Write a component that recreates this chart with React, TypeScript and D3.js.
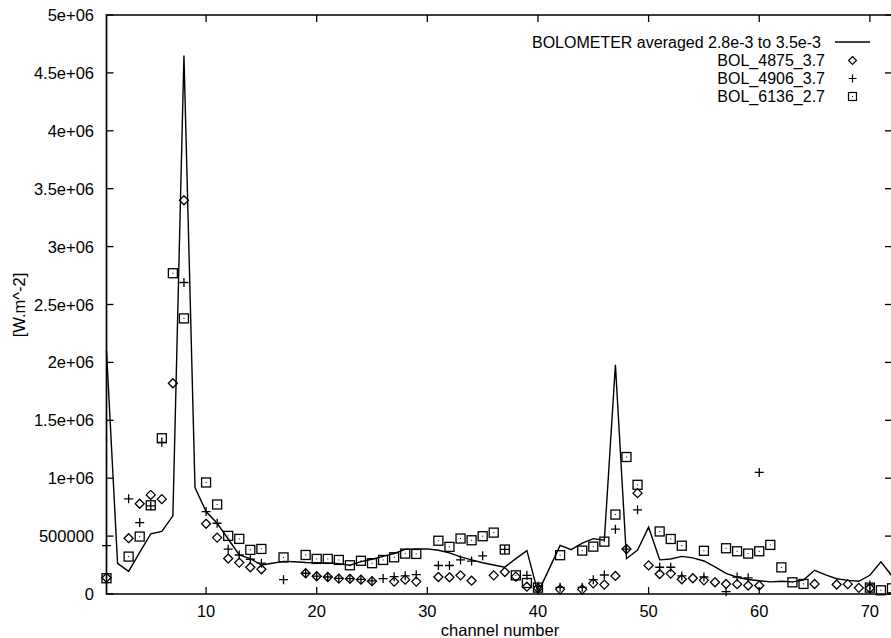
import React from "react";
import * as d3 from "d3";

const channels: number[] = d3.range(1, 73);

// BOLOMETER averaged 2.8e-3 to 3.5e-3 (solid line), channels 1..72
const bolometerAvg: number[] = [
  2100000, 265000, 195000, 360000, 520000, 540000, 675000, 4650000, 920000, 712000,
  611000, 475000, 337000, 305000, 250000, 265000, 282000, 278000, 272000, 270000,
  268000, 262000, 248000, 280000, 300000, 325000, 350000, 385000, 388000, 390000,
  378000, 355000, 320000, 295000, 270000, 250000, 232000, 305000, 375000, 12000,
  215000, 420000, 383000, 440000, 478000, 465000, 1980000, 305000, 380000, 577000,
  295000, 302000, 325000, 312000, 285000, 235000, 178000, 145000, 125000, 115000,
  105000, 110000, 105000, 120000, 205000, 165000, 132000, 118000, 110000, 162000,
  278000, 155000,
];

type V = number | null;

// BOL_4875_3.7 (diamonds)
const bol4875: V[] = [
  140000, null, 482000, 779000, 856000, 819000, 1820000, 3400000, null, 606000,
  487000, 306000, 271000, 231000, 214000, null, null, null, 179000, 153000,
  147000, 133000, 131000, 124000, 111000, null, 107000, 124000, 107000, null,
  147000, 144000, 161000, 115000, null, 161000, 190000, 150000, 63000, 49000,
  null, 40000, null, 40000, 92000, 81000, 156000, 388000, 871000, 247000,
  173000, 176000, 127000, 136000, 118000, 101000, 87000, 85000, 73000, 73000,
  null, null, null, null, 86000, null, 82000, 85000, 53000, 50000,
  null, null,
];

// BOL_4906_3.7 (plus)
const bol4906: V[] = [
  418000, null, 822000, 617000, 761000, 1310000, null, 2690000, null, 712000,
  611000, 387000, 337000, 300000, 266000, null, 124000, null, 179000, 155000,
  147000, 135000, 133000, 126000, 113000, 133000, 150000, 157000, 167000, null,
  246000, 246000, 294000, 284000, 330000, null, 385000, null, 161000, 66000,
  null, 58000, null, 58000, 124000, 164000, 560000, 388000, 727000, null,
  231000, 231000, 156000, null, 147000, null, 20000, 147000, 140000, 1050000,
  null, null, null, null, null, null, null, null, null, 78000,
  null, null,
];

// BOL_6136_2.7 (squares)
const bol6136: V[] = [
  136000, null, 323000, 496000, 766000, 1345000, 2770000, 2380000, null, 963000,
  773000, 502000, 476000, 381000, 389000, null, 316000, null, 337000, 303000,
  303000, 294000, 248000, 287000, 266000, 294000, 317000, 349000, 346000, null,
  460000, 407000, 479000, 464000, 499000, 530000, 384000, 161000, 95000, 55000,
  null, 335000, null, 375000, 409000, 452000, 686000, 1183000, 943000, null,
  540000, 475000, 417000, null, 373000, null, 395000, 369000, 349000, 369000,
  424000, 230000, 101000, 87000, null, null, null, null, null, 55000,
  32000, 49000,
];

const xTicks: number[] = [10, 20, 30, 40, 50, 60, 70];
const yTicks: number[] = [0, 500000, 1000000, 1500000, 2000000, 2500000, 3000000, 3500000, 4000000, 4500000, 5000000];
const yTickLabels: string[] = ["0", "500000", "1e+06", "1.5e+06", "2e+06", "2.5e+06", "3e+06", "3.5e+06", "4e+06", "4.5e+06", "5e+06"];

const legendLabels: string[] = [
  "BOLOMETER averaged 2.8e-3 to 3.5e-3",
  "BOL_4875_3.7",
  "BOL_4906_3.7",
  "BOL_6136_2.7",
];

const W = 891;
const H = 638;
const left = 106.5;
const right = 892;
const top = 15;
const bottom = 594;
const FONT = "'Liberation Sans', Arial, Helvetica, sans-serif";

export default function App() {
  const x = d3.scaleLinear().domain([1, 72]).range([left, right]);
  const y = d3.scaleLinear().domain([0, 5000000]).range([bottom, top]);

  const linePath = d3
    .line<number>()
    .x((_, i) => x(channels[i]))
    .y((d) => y(d))(bolometerAvg) as string;

  const diamond = (cx: number, cy: number, r = 4.5) =>
    `M${cx},${cy - r}L${cx + r},${cy}L${cx},${cy + r}L${cx - r},${cy}Z`;
  const plus = (cx: number, cy: number, r = 4.5) =>
    `M${cx - r},${cy}H${cx + r}M${cx},${cy - r}V${cy + r}`;

  const tickLen = 7;
  const fs = 16.5;
  const lfs = 16;
  const legendY = [42, 60.5, 78.5, 96.5];

  return (
    <svg
      width={W}
      height={H}
      style={{ position: "absolute", left: 0, top: 0, background: "#fff" }}
      fontFamily={FONT}
    >
      <rect x={0} y={0} width={W} height={H} fill="#fff" />
      {/* border */}
      <path
        d={`M${left},${top}H${right}V${bottom}H${left}Z`}
        fill="none"
        stroke="#000"
        strokeWidth={1.7}
      />
      {/* y ticks */}
      {yTicks.map((t, i) => (
        <g key={"yt" + i}>
          <line x1={left} x2={left + tickLen} y1={y(t)} y2={y(t)} stroke="#000" strokeWidth={1.3} />
          <line x1={right} x2={right - tickLen} y1={y(t)} y2={y(t)} stroke="#000" strokeWidth={1.3} />
          <text
            x={94}
            y={y(t)}
            textAnchor="end"
            dominantBaseline="central"
            fontSize={fs}
            fill="#000"
          >
            {yTickLabels[i]}
          </text>
        </g>
      ))}
      {/* x ticks */}
      {xTicks.map((t) => (
        <g key={"xt" + t}>
          <line x1={x(t)} x2={x(t)} y1={bottom} y2={bottom - tickLen} stroke="#000" strokeWidth={1.3} />
          <line x1={x(t)} x2={x(t)} y1={top} y2={top + tickLen} stroke="#000" strokeWidth={1.3} />
          <text x={x(t)} y={610.5} textAnchor="middle" dominantBaseline="central" fontSize={fs} fill="#000">
            {t}
          </text>
        </g>
      ))}
      {/* axis titles */}
      <text x={500} y={630} textAnchor="middle" dominantBaseline="central" fontSize={fs} fill="#000">
        channel number
      </text>
      <text
        transform={`translate(19,305) rotate(-90)`}
        textAnchor="middle"
        dominantBaseline="central"
        fontSize={fs}
        fill="#000"
      >
        [W.m^-2]
      </text>

      {/* averaged line */}
      <path d={linePath} fill="none" stroke="#000" strokeWidth={1.4} />

      {/* markers */}
      {bol4875.map((v, i) =>
        v == null ? null : (
          <path key={"d" + i} d={diamond(x(channels[i]), y(v))} fill="none" stroke="#000" strokeWidth={1.3} />
        )
      )}
      {bol4906.map((v, i) =>
        v == null ? null : (
          <path key={"p" + i} d={plus(x(channels[i]), y(v))} fill="none" stroke="#000" strokeWidth={1.3} />
        )
      )}
      {bol6136.map((v, i) =>
        v == null ? null : (
          <g key={"s" + i}>
            <rect
              x={x(channels[i]) - 4.5}
              y={y(v) - 4.5}
              width={9}
              height={9}
              fill="none"
              stroke="#000"
              strokeWidth={1.3}
            />
            <rect x={x(channels[i]) - 0.5} y={y(v) - 0.5} width={1} height={1} fill="#000" />
          </g>
        )
      )}

      {/* legend */}
      <g>
        <text x={821} y={legendY[0]} textAnchor="end" dominantBaseline="central" fontSize={lfs} fill="#000">
          {legendLabels[0]}
        </text>
        <line x1={835} x2={870} y1={legendY[0]} y2={legendY[0]} stroke="#000" strokeWidth={1.3} />
        <text x={825} y={legendY[1]} textAnchor="end" dominantBaseline="central" fontSize={lfs} fill="#000">
          {legendLabels[1]}
        </text>
        <path d={diamond(852.5, legendY[1], 4)} fill="none" stroke="#000" strokeWidth={1.2} />
        <text x={825} y={legendY[2]} textAnchor="end" dominantBaseline="central" fontSize={lfs} fill="#000">
          {legendLabels[2]}
        </text>
        <path d={plus(852.5, legendY[2], 4)} fill="none" stroke="#000" strokeWidth={1.2} />
        <text x={825} y={legendY[3]} textAnchor="end" dominantBaseline="central" fontSize={lfs} fill="#000">
          {legendLabels[3]}
        </text>
        <rect x={848.5} y={legendY[3] - 4} width={8} height={8} fill="none" stroke="#000" strokeWidth={1.2} />
        <rect x={852} y={legendY[3] - 0.5} width={1} height={1} fill="#000" />
      </g>
    </svg>
  );
}
